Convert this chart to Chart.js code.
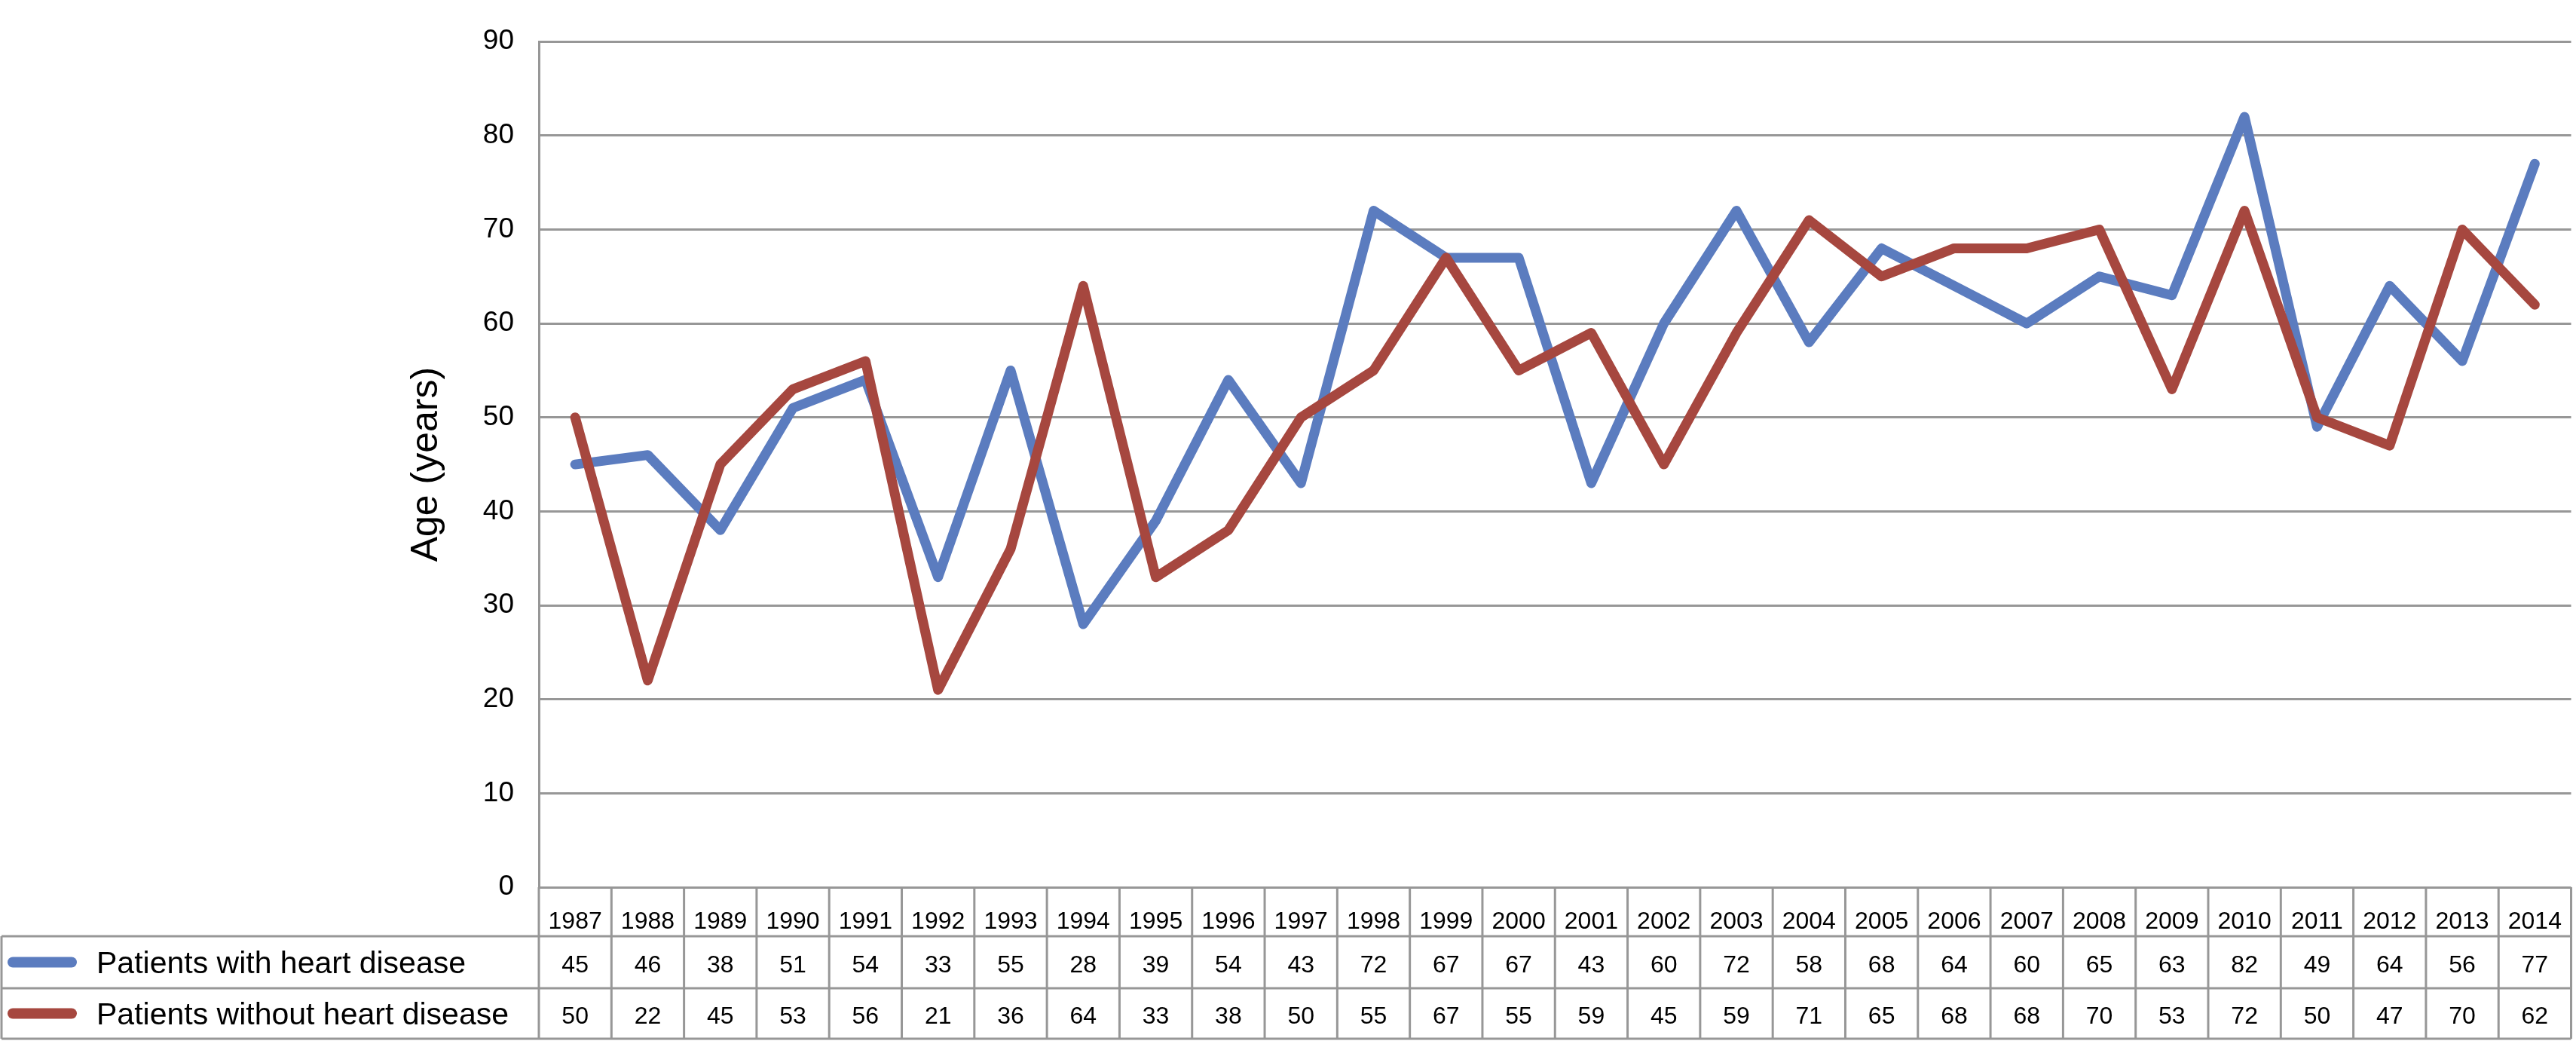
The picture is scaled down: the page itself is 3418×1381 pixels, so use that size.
<!DOCTYPE html>
<html>
<head>
<meta charset="utf-8">
<title>Age of patients</title>
<script src="https://cdn.jsdelivr.net/npm/chart.js@4.4.1/dist/chart.umd.min.js"></script>
<style>
  html, body { margin: 0; padding: 0; background: #fff; }
  canvas { display: block; }
</style>
</head>
<body>
<canvas id="age-chart" width="3418" height="1381"></canvas>
<script>
// data
const years = ['1987', '1988', '1989', '1990', '1991', '1992', '1993', '1994', '1995', '1996',
    '1997', '1998', '1999', '2000', '2001', '2002', '2003', '2004', '2005', '2006',
    '2007', '2008', '2009', '2010', '2011', '2012', '2013', '2014'];
const withHeartDisease = [45, 46, 38, 51, 54, 33, 55, 28, 39, 54, 43, 72, 67, 67, 43, 60, 72, 58, 68, 64, 60, 65, 63, 82, 49, 64, 56, 77];
const withoutHeartDisease = [50, 22, 45, 53, 56, 21, 36, 64, 33, 38, 50, 55, 67, 55, 59, 45, 59, 71, 65, 68, 68, 70, 53, 72, 50, 47, 70, 62];
const seriesNames = ['Patients with heart disease', 'Patients without heart disease'];

const FONT = '"Liberation Sans", Arial, Helvetica, sans-serif';
const GRID = '#979797';
const BLUE = '#5b7cbf';
const RED = '#a6473f';

// table rows below the plot (y of row borders)
const rowLines = [1177, 1242, 1311, 1378];

// draws the data table (cells, values, legend keys) under the x axis
const dataTable = {
    id: 'dataTable',
    afterDraw(chart) {
        const ctx = chart.ctx;
        const x = chart.scales.x;
        const right = x.getPixelForValue(years.length - 0.5);
        ctx.save();
        ctx.strokeStyle = GRID;
        ctx.lineWidth = 3;

        // horizontal borders
        ctx.beginPath();
        ctx.moveTo(2, rowLines[1]); ctx.lineTo(right, rowLines[1]);
        ctx.moveTo(2, rowLines[2]); ctx.lineTo(right, rowLines[2]);
        ctx.moveTo(2, rowLines[3]); ctx.lineTo(right, rowLines[3]);
        // column borders
        for (let i = 0; i <= years.length; i++) {
            const px = x.getPixelForValue(i - 0.5);
            ctx.moveTo(px, rowLines[0]);
            ctx.lineTo(px, rowLines[3]);
        }
        // left edge of legend cells
        ctx.moveTo(2, rowLines[1]); ctx.lineTo(2, rowLines[3]);
        ctx.stroke();

        // values
        const rows = [withHeartDisease, withoutHeartDisease];
        ctx.fillStyle = '#000';
        ctx.font = '32px ' + FONT;
        ctx.textAlign = 'center';
        ctx.textBaseline = 'middle';
        rows.forEach((vals, r) => {
            const cy = (rowLines[r + 1] + rowLines[r + 2]) / 2 + 5;
            vals.forEach((v, i) => {
                ctx.fillText(String(v), x.getPixelForValue(i), cy);
            });
        });

        // legend keys
        const colors = [BLUE, RED];
        ctx.textAlign = 'left';
        ctx.font = '41px ' + FONT;
        seriesNames.forEach((name, r) => {
            const cy = (rowLines[r + 1] + rowLines[r + 2]) / 2;
            ctx.strokeStyle = colors[r];
            ctx.lineWidth = 14;
            ctx.lineCap = 'round';
            ctx.beginPath();
            ctx.moveTo(17, cy);
            ctx.lineTo(95, cy);
            ctx.stroke();
            ctx.fillText(name, 128, cy + 3);
        });
        ctx.restore();
    }
};

const ctx = document.getElementById('age-chart').getContext('2d');
new Chart(ctx, {
    type: 'line',
    data: {
        labels: years,
        datasets: [
            {
                label: seriesNames[0],
                data: withHeartDisease,
                borderColor: BLUE,
                backgroundColor: BLUE,
                borderWidth: 13,
                borderJoinStyle: 'round',
                borderCapStyle: 'round',
                pointRadius: 0,
                tension: 0,
                order: 1
            },
            {
                label: seriesNames[1],
                data: withoutHeartDisease,
                borderColor: RED,
                backgroundColor: RED,
                borderWidth: 13,
                borderJoinStyle: 'round',
                borderCapStyle: 'round',
                pointRadius: 0,
                tension: 0,
                order: 0
            }
        ]
    },
    options: {
        responsive: false,
        animation: false,
        devicePixelRatio: 1,
        layout: {
            padding: { top: 22, right: 2, bottom: 0, left: 0 }
        },
        plugins: {
            legend: { display: false },
            tooltip: { enabled: false }
        },
        scales: {
            x: {
                offset: true,
                grid: { display: false },
                border: { display: false },
                ticks: {
                    color: '#000',
                    font: { family: FONT, size: 32 },
                    padding: 19,
                    maxRotation: 0,
                    autoSkip: false
                },
                afterFit(scale) {
                    scale.height = 204;
                }
            },
            y: {
                min: 0,
                max: 90,
                ticks: {
                    stepSize: 10,
                    color: '#000',
                    font: { family: FONT, size: 37 },
                    padding: 33
                },
                grid: {
                    color: GRID,
                    lineWidth: 3,
                    drawTicks: false
                },
                border: { display: true, color: GRID, width: 3 },
                title: {
                    display: true,
                    text: 'Age (years)',
                    color: '#000',
                    font: { family: FONT, size: 50 },
                    padding: { top: 536, bottom: 0 }
                },
                afterFit(scale) {
                    scale.width = 715;
                }
            }
        }
    },
    plugins: [dataTable]
});
</script>
</body>
</html>
